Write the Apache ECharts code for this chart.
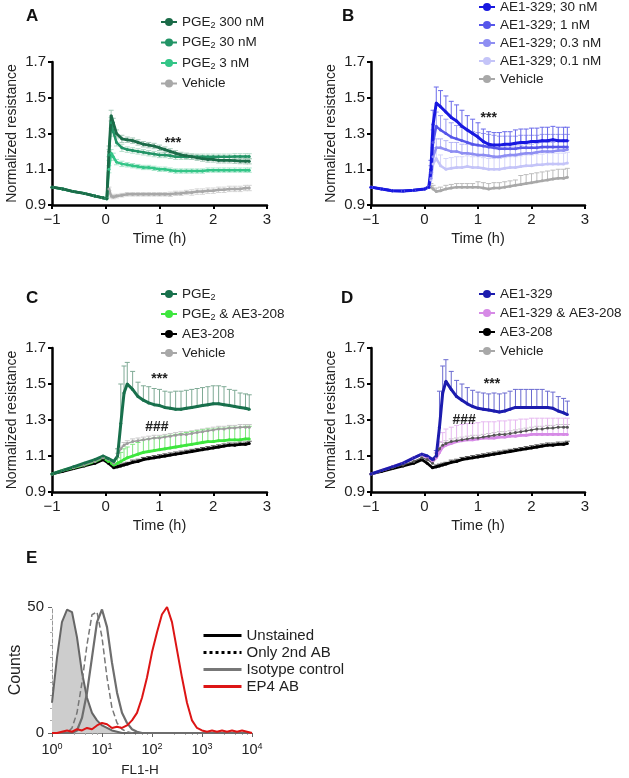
<!DOCTYPE html>
<html><head><meta charset="utf-8">
<script src="https://cdn.jsdelivr.net/npm/echarts@6/dist/echarts.min.js"></script>
<style>html,body{margin:0;padding:0;background:#fff}#c{width:629px;height:778px}</style>
</head><body><div id="c"></div>
<script>
// ---------- Panel A ----------
const tA = [-1,-0.8,-0.6,-0.4,-0.2,-0.05,0.02,0.06,0.1,0.14,0.2,0.3,0.4,0.5,0.6,0.7,0.8,0.9,1.0,1.1,1.2,1.3,1.4,1.5,1.6,1.7,1.8,1.9,2.0,2.1,2.2,2.3,2.4,2.5,2.6,2.67];
const pge300A = [1.00,0.99,0.975,0.965,0.95,0.94,0.935,1.20,1.40,1.36,1.30,1.27,1.265,1.26,1.25,1.24,1.235,1.23,1.22,1.21,1.20,1.19,1.18,1.175,1.17,1.165,1.16,1.155,1.155,1.15,1.15,1.15,1.148,1.146,1.145,1.145];
const pge30A  = [1.00,0.99,0.975,0.965,0.95,0.94,0.935,1.18,1.36,1.31,1.25,1.22,1.21,1.205,1.20,1.195,1.19,1.185,1.18,1.18,1.175,1.17,1.17,1.17,1.17,1.17,1.17,1.17,1.17,1.17,1.17,1.17,1.172,1.172,1.172,1.172];
const pge3A   = [1.00,0.99,0.975,0.965,0.95,0.94,0.935,1.10,1.19,1.17,1.14,1.13,1.125,1.12,1.115,1.11,1.11,1.105,1.10,1.10,1.095,1.09,1.09,1.09,1.09,1.09,1.09,1.095,1.095,1.095,1.095,1.095,1.095,1.095,1.095,1.095];
const vehA    = [1.00,0.99,0.975,0.965,0.95,0.94,0.935,0.99,0.95,0.945,0.95,0.955,0.96,0.96,0.96,0.96,0.96,0.96,0.96,0.96,0.96,0.965,0.965,0.97,0.97,0.975,0.975,0.98,0.98,0.985,0.985,0.99,0.99,0.99,0.995,0.995];
const e300A = [0,0,0,0,0,0,0,0.03,0.03,0.025,0.02,0.02,0.015,0.015,0.015,0.015,0.015,0.015,0.015,0.015,0.015,0.015,0.015,0.015,0.015,0.015,0.015,0.015,0.015,0.015,0.015,0.015,0.015,0.015,0.015,0.015];
const e30A  = [0,0,0,0,0,0,0,0.03,0.03,0.025,0.02,0.02,0.015,0.015,0.015,0.015,0.015,0.015,0.015,0.015,0.015,0.015,0.015,0.015,0.015,0.015,0.015,0.015,0.015,0.015,0.015,0.015,0.015,0.015,0.015,0.015];
const e3A   = [0,0,0,0,0,0,0,0.02,0.02,0.02,0.015,0.015,0.012,0.012,0.012,0.012,0.012,0.012,0.012,0.012,0.012,0.012,0.012,0.012,0.012,0.012,0.012,0.012,0.012,0.012,0.012,0.012,0.012,0.012,0.012,0.012];
const eVehA = [0,0,0,0,0,0,0,0.01,0.01,0.01,0.01,0.01,0.01,0.01,0.01,0.01,0.01,0.01,0.01,0.01,0.012,0.012,0.012,0.012,0.015,0.015,0.015,0.015,0.015,0.015,0.015,0.015,0.015,0.015,0.015,0.015];

// ---------- Panel B ----------
const tB = [-1,-0.8,-0.6,-0.4,-0.2,0,0.08,0.12,0.16,0.22,0.3,0.4,0.5,0.6,0.7,0.8,0.9,1.0,1.1,1.2,1.3,1.4,1.5,1.6,1.7,1.8,1.9,2.0,2.1,2.2,2.3,2.4,2.5,2.6,2.67];
const ae30B = [1.00,0.99,0.98,0.978,0.983,0.99,1.00,1.10,1.35,1.47,1.45,1.42,1.39,1.37,1.34,1.32,1.30,1.28,1.255,1.24,1.235,1.235,1.24,1.24,1.245,1.25,1.25,1.255,1.255,1.26,1.26,1.265,1.26,1.26,1.26];
const ae1B  = [1.00,0.99,0.98,0.978,0.983,0.99,1.00,1.08,1.25,1.34,1.32,1.30,1.28,1.27,1.26,1.25,1.24,1.235,1.23,1.225,1.22,1.215,1.215,1.215,1.215,1.22,1.22,1.22,1.22,1.225,1.225,1.225,1.225,1.225,1.225];
const ae03B = [1.00,0.99,0.98,0.978,0.983,0.99,1.00,1.05,1.17,1.22,1.22,1.21,1.20,1.20,1.19,1.19,1.185,1.18,1.18,1.175,1.17,1.17,1.175,1.18,1.18,1.185,1.19,1.19,1.195,1.20,1.20,1.20,1.205,1.205,1.21];
const ae01B = [1.00,0.99,0.98,0.978,0.983,0.99,1.00,1.04,1.13,1.16,1.12,1.10,1.105,1.11,1.11,1.115,1.11,1.11,1.105,1.10,1.10,1.10,1.105,1.11,1.11,1.115,1.12,1.12,1.125,1.125,1.13,1.13,1.13,1.13,1.135];
const vehB  = [1.00,0.99,0.98,0.978,0.983,0.99,1.00,1.00,0.99,0.975,0.98,0.99,0.995,1.0,1.0,1.0,1.0,1.0,0.995,0.99,0.995,0.995,1.0,1.005,1.01,1.015,1.02,1.025,1.03,1.035,1.04,1.045,1.05,1.05,1.055];
const e30B  = [0,0,0,0,0,0,0,0.05,0.08,0.09,0.09,0.09,0.09,0.09,0.09,0.08,0.08,0.08,0.07,0.07,0.07,0.07,0.07,0.07,0.075,0.075,0.075,0.075,0.075,0.075,0.075,0.075,0.075,0.075,0.075];
const e1B   = [0,0,0,0,0,0,0,0.04,0.07,0.08,0.08,0.08,0.08,0.075,0.075,0.07,0.07,0.07,0.07,0.07,0.07,0.07,0.07,0.07,0.07,0.07,0.07,0.07,0.07,0.07,0.07,0.07,0.07,0.07,0.07];
const e03B  = [0,0,0,0,0,0,0,0.03,0.05,0.05,0.05,0.05,0.05,0.05,0.05,0.05,0.05,0.05,0.05,0.05,0.05,0.05,0.05,0.05,0.05,0.05,0.05,0.05,0.05,0.05,0.05,0.05,0.05,0.05,0.05];
const e01B  = [0,0,0,0,0,0,0,0.03,0.06,0.06,0.06,0.06,0.06,0.06,0.06,0.06,0.06,0.06,0.06,0.06,0.06,0.06,0.06,0.06,0.06,0.06,0.06,0.06,0.06,0.06,0.06,0.06,0.06,0.06,0.06];
const eVehB = [0,0,0,0,0,0,0,0.02,0.02,0.02,0.02,0.02,0.02,0.02,0.02,0.02,0.02,0.03,0.03,0.03,0.03,0.03,0.03,0.03,0.03,0.05,0.05,0.05,0.05,0.05,0.05,0.05,0.05,0.05,0.05];

// ---------- Panels C and D ----------
const tCD = [-1,-0.8,-0.6,-0.4,-0.2,-0.05,0.05,0.15,0.22,0.28,0.34,0.4,0.5,0.6,0.7,0.8,0.9,1.0,1.1,1.2,1.3,1.4,1.5,1.6,1.7,1.8,1.9,2.0,2.1,2.2,2.3,2.4,2.5,2.6,2.67];
const pgeC   = [1.0,1.02,1.04,1.06,1.08,1.10,1.085,1.07,1.10,1.28,1.45,1.50,1.47,1.43,1.41,1.395,1.385,1.38,1.37,1.365,1.36,1.36,1.365,1.37,1.375,1.38,1.385,1.39,1.39,1.385,1.38,1.375,1.37,1.365,1.36];
const pgeAeC = [1.0,1.02,1.035,1.05,1.07,1.09,1.07,1.05,1.06,1.07,1.08,1.09,1.10,1.11,1.12,1.125,1.13,1.135,1.14,1.145,1.15,1.155,1.16,1.165,1.17,1.175,1.18,1.18,1.185,1.185,1.19,1.19,1.19,1.195,1.195];
const ae3CD  = [1.0,1.015,1.03,1.045,1.06,1.08,1.06,1.035,1.04,1.045,1.05,1.055,1.065,1.07,1.08,1.085,1.09,1.095,1.10,1.105,1.11,1.115,1.12,1.125,1.13,1.135,1.14,1.145,1.15,1.155,1.16,1.16,1.165,1.165,1.17];
const vehCD  = [1.0,1.02,1.035,1.05,1.07,1.09,1.08,1.06,1.10,1.14,1.16,1.17,1.18,1.185,1.19,1.195,1.20,1.20,1.205,1.21,1.215,1.22,1.22,1.225,1.23,1.235,1.24,1.245,1.25,1.25,1.255,1.255,1.26,1.26,1.26];
const ae1D   = [1.0,1.02,1.04,1.06,1.09,1.11,1.10,1.08,1.10,1.26,1.45,1.515,1.47,1.43,1.41,1.39,1.375,1.365,1.36,1.355,1.35,1.345,1.35,1.36,1.37,1.37,1.37,1.37,1.37,1.37,1.37,1.365,1.35,1.34,1.33];
const ae1Ae3D= [1.0,1.02,1.04,1.06,1.09,1.11,1.09,1.07,1.09,1.12,1.15,1.16,1.17,1.18,1.185,1.19,1.19,1.195,1.20,1.20,1.20,1.205,1.205,1.21,1.21,1.215,1.215,1.22,1.22,1.22,1.22,1.22,1.22,1.22,1.22];
const ePgeC   = [0,0,0,0,0,0,0,0,0.04,0.22,0.15,0.12,0.10,0.08,0.08,0.09,0.09,0.09,0.09,0.09,0.10,0.10,0.10,0.10,0.10,0.10,0.10,0.10,0.10,0.10,0.09,0.09,0.08,0.08,0.08];
const ePgeAeC = [0,0,0,0,0,0,0,0,0.03,0.05,0.06,0.06,0.065,0.065,0.07,0.07,0.07,0.07,0.07,0.07,0.07,0.07,0.07,0.07,0.07,0.07,0.07,0.07,0.07,0.07,0.07,0.07,0.07,0.07,0.07];
const eAe3CD  = [0,0,0,0,0,0,0,0,0.01,0.01,0.01,0.01,0.012,0.012,0.012,0.012,0.012,0.012,0.012,0.012,0.012,0.012,0.012,0.012,0.012,0.012,0.012,0.012,0.012,0.012,0.012,0.012,0.012,0.012,0.012];
const eVehCD  = [0,0,0,0,0,0,0,0,0.015,0.015,0.015,0.015,0.015,0.015,0.015,0.015,0.015,0.015,0.015,0.015,0.015,0.015,0.015,0.015,0.015,0.015,0.015,0.015,0.015,0.015,0.015,0.015,0.015,0.015,0.015];
const eAe1D   = [0,0,0,0,0,0,0,0,0.03,0.20,0.15,0.12,0.10,0.09,0.09,0.09,0.09,0.09,0.09,0.09,0.10,0.10,0.10,0.10,0.10,0.10,0.10,0.10,0.10,0.10,0.09,0.09,0.08,0.08,0.075];
const eAe1Ae3D= [0,0,0,0,0,0,0,0,0.03,0.06,0.08,0.09,0.09,0.09,0.09,0.09,0.09,0.09,0.09,0.09,0.09,0.09,0.09,0.09,0.09,0.09,0.09,0.09,0.09,0.09,0.09,0.09,0.09,0.09,0.09];

// ---------- Panel E (flow cytometry) ----------
const flBins = [1,1.26,1.58,2,2.51,3.16,3.98,5.01,6.31,7.94,10,12.6,15.8,20,25.1,31.6,39.8,50.1,63.1,79.4,100,126,158,200,251,316,398,501,631,794,1000,1259,1585,1995,2512,3162,3981,5012,6310,7943,10000];
const unstained = [12,30,44,49,48,38,24,14,8,5,3,2,1,0.5,0,0,0,0,0,0,0,0,0,0,0,0,0,0,0,0,0,0,0,0,0,0,0,0,0,0,0];
const only2nd   = [0,0,0,0,2,8,20,35,47,48,38,22,10,4,1.5,0.5,0,0,0,0,0,0,0,0,0,0,0,0,0,0,0,0,0,0,0,0,0,0,0,0,0];
const isotype   = [0,0,0,0,0,1,6,16,30,44,49,42,28,16,8,4,1.5,0.5,0,0,0,0,0,0,0,0,0,0,0,0,0,0,0,0,0,0,0,0,0,0,0];
const ep4       = [0,0,0.5,1,0.5,1.5,1,2,1.5,3,4,3.5,2,2.5,2,3,5,8,14,22,32,40,47,50,44,33,22,12,5,2,1,0.5,1,0.5,1,0.5,1,0.5,1,0.5,0];

// ---------- tick labels ----------
const timeTicks = [-1,0,1,2,3];
const resTicks = [0.9,1.1,1.3,1.5,1.7];

const F = "'Liberation Sans', Arial, Helvetica, sans-serif";
const TXT = '#222';

function pts(t, y){ return t.map((v,i)=>[v, y[i]]); }
function errPts(t, y, e){ return t.map((v,i)=>[v, y[i], e[i]]); }

function lineS(name, gi, t, y, color, w, mp){
  const s = {name, type:'line', xAxisIndex:gi, yAxisIndex:gi, data:pts(t,y),
    symbol:'circle', symbolSize:3, showSymbol:true,
    lineStyle:{color, width:w||2.5}, itemStyle:{color}, z:4, animation:false};
  if (mp) s.markPoint = {symbol:'circle', symbolSize:1, itemStyle:{color:'rgba(0,0,0,0)'},
    label:{show:true, position:'inside', color:TXT, fontFamily:F, fontSize:14, fontWeight:'bold', formatter:p=>p.data.value},
    data: mp.map(m=>({coord:[m[0], m[1]], value:m[2]}))};
  return s;
}
function errS(gi, t, y, e, color, both){
  return {type:'custom', xAxisIndex:gi, yAxisIndex:gi, data:errPts(t,y,e), encode:{x:0,y:1}, z:2, silent:true, animation:false,
    renderItem:function(params, api){
      const x = api.value(0), yv = api.value(1), ev = api.value(2);
      if (!ev) return;
      const p0 = api.coord([x, both ? yv-ev : yv]);
      const p1 = api.coord([x, yv+ev]);
      const ch = [
        {type:'line', shape:{x1:p0[0],y1:p0[1],x2:p1[0],y2:p1[1]}, style:{stroke:color, lineWidth:1}},
        {type:'line', shape:{x1:p1[0]-2.5,y1:p1[1],x2:p1[0]+2.5,y2:p1[1]}, style:{stroke:color, lineWidth:1}}
      ];
      if (both) ch.push({type:'line', shape:{x1:p0[0]-2.5,y1:p0[1],x2:p0[0]+2.5,y2:p0[1]}, style:{stroke:color, lineWidth:1}});
      return {type:'group', children:ch};
    }};
}

const grids = [
  {left:52, top:62, width:215, height:143},
  {left:371, top:62, width:214, height:143},
  {left:52, top:348, width:215, height:144},
  {left:371, top:348, width:214, height:144},
  {left:52, top:607, width:200, height:126}
];

function xAx(gi){
  return {gridIndex:gi, type:'value', min:timeTicks[0], max:timeTicks[timeTicks.length-1], interval:1,
    name:'Time (h)', nameLocation:'middle', nameGap:26,
    nameTextStyle:{fontSize:14.5, color:TXT, fontFamily:F},
    axisLine:{show:true, onZero:false, lineStyle:{color:'#000', width:2.5}},
    axisTick:{show:true, length:4, lineStyle:{color:'#000', width:2}},
    axisLabel:{fontSize:15, color:TXT, fontFamily:F, margin:7, formatter:v=> v<0 ? '\u2212'+Math.abs(v) : String(v)},
    splitLine:{show:false}};
}
function yAx(gi){
  return {gridIndex:gi, type:'value', min:resTicks[0], max:resTicks[resTicks.length-1], interval:0.2,
    name:'Normalized resistance', nameLocation:'middle', nameGap:33,
    nameTextStyle:{fontSize:14, color:TXT, fontFamily:F},
    axisLine:{show:true, onZero:false, lineStyle:{color:'#000', width:2.5}},
    axisTick:{show:true, length:4, lineStyle:{color:'#000', width:2}},
    axisLabel:{fontSize:15, color:TXT, fontFamily:F, margin:6, formatter:v=>v.toFixed(1)},
    splitLine:{show:false}};
}

const C = {
  a300:'#1b6b48', a30:'#229466', a3:'#33c587', veh:'#a8a8a8',
  b30:'#1818e0', b1:'#5656ea', b03:'#8e8ef2', b01:'#c4c4f8',
  cPge:'#18704c', cPgeAe:'#3ee63e', blk:'#000000', vehCD:'#9c9c9c',
  dAe:'#1c1cae', dPink:'#d68ae6'
};

function legendFmt(n){
  if (n.indexOf('PGE2') === 0) return '{t|PGE}{s|2}{t|' + n.slice(4) + '}';
  return '{t|' + n + '}';
}
const legRich = {t:{fontSize:13.5, lineHeight:16, color:TXT, fontFamily:F}, s:{fontSize:9, verticalAlign:'bottom', color:TXT, fontFamily:F}};
function leg(left, top, gap, names){
  return {orient:'vertical', left, top, itemWidth:16, itemHeight:10, itemGap:gap, padding:0,
    selectedMode:false, formatter:legendFmt, textStyle:{rich:legRich}, data:names};
}

const series = [
  // A
  errS(0,tA,vehA,eVehA,'#d4d4d4',true),
  errS(0,tA,pge3A,e3A,'#a9e6cb',true),
  errS(0,tA,pge30A,e30A,'#b4dcc9',true),
  errS(0,tA,pge300A,e300A,'#a7c9b9',true),
  lineS('Vehicle',0,tA,vehA,C.veh,2.5),
  lineS('PGE2 3 nM',0,tA,pge3A,C.a3,2.5),
  lineS('PGE2 30 nM',0,tA,pge30A,C.a30,2.5),
  lineS('PGE2 300 nM',0,tA,pge300A,C.a300,2.8,[[1.25,1.245,'***']]),
  // B
  errS(1,tB,vehB,eVehB,'#bdbdbd'),
  errS(1,tB,ae01B,e01B,'#d6d6fa'),
  errS(1,tB,ae03B,e03B,'#b4b4f5'),
  errS(1,tB,ae1B,e1B,'#9a9af0'),
  errS(1,tB,ae30B,e30B,'#6a6aea'),
  lineS('Vehicle',1,tB,vehB,C.veh,2.5),
  lineS('AE1-329; 0.1 nM',1,tB,ae01B,C.b01,2.5),
  lineS('AE1-329; 0.3 nM',1,tB,ae03B,C.b03,2.5),
  lineS('AE1-329; 1 nM',1,tB,ae1B,C.b1,2.5),
  lineS('AE1-329; 30 nM',1,tB,ae30B,C.b30,3,[[1.2,1.385,'***']]),
  // C
  errS(2,tCD,vehCD,eVehCD,'#c8c8c8'),
  errS(2,tCD,ae3CD,eAe3CD,'#555555'),
  errS(2,tCD,pgeAeC,ePgeAeC,'#7fe67f'),
  errS(2,tCD,pgeC,ePgeC,'#7faa95'),
  lineS('AE3-208',2,tCD,ae3CD,C.blk,2.8),
  lineS('PGE2 & AE3-208',2,tCD,pgeAeC,C.cPgeAe,2.8),
  lineS('Vehicle',2,tCD,vehCD,C.vehCD,1.5,[[0.95,1.262,'###']]),
  lineS('PGE2',2,tCD,pgeC,C.cPge,3,[[1.0,1.525,'***']]),
  // D
  errS(3,tCD,vehCD,eVehCD,'#c8c8c8'),
  errS(3,tCD,ae3CD,eAe3CD,'#555555'),
  errS(3,tCD,ae1Ae3D,eAe1Ae3D,'#e6b8f0'),
  errS(3,tCD,ae1D,eAe1D,'#6a6ad0'),
  lineS('AE3-208',3,tCD,ae3CD,C.blk,2.8),
  lineS('AE1-329 & AE3-208',3,tCD,ae1Ae3D,C.dPink,2.8),
  lineS('Vehicle',3,tCD,vehCD,'#555555',1.2,[[0.74,1.30,'###']]),
  lineS('AE1-329',3,tCD,ae1D,C.dAe,3,[[1.26,1.50,'***']]),
  // E
  {name:'Unstained', type:'line', xAxisIndex:4, yAxisIndex:4, data:pts(flBins,unstained), symbol:'none',
   lineStyle:{color:'#666', width:2}, itemStyle:{color:'#666'}, areaStyle:{color:'#cdcdcd', opacity:1}, z:2, animation:false},
  {name:'Only 2nd AB', type:'line', xAxisIndex:4, yAxisIndex:4, data:pts(flBins,only2nd), symbol:'none',
   lineStyle:{color:'#777', width:1.5, type:'dashed'}, itemStyle:{color:'#777'}, z:3, animation:false},
  {name:'Isotype control', type:'line', xAxisIndex:4, yAxisIndex:4, data:pts(flBins,isotype), symbol:'none',
   lineStyle:{color:'#6e6e6e', width:2.2}, itemStyle:{color:'#6e6e6e'}, z:4, animation:false},
  {name:'EP4 AB', type:'line', xAxisIndex:4, yAxisIndex:4, data:pts(flBins,ep4), symbol:'none',
   lineStyle:{color:'#dd1515', width:2}, itemStyle:{color:'#dd1515'}, z:5, animation:false}
];

const noSym = {color:'rgba(0,0,0,0)', borderWidth:0, borderColor:'rgba(0,0,0,0)'};
const option = {
  backgroundColor:'#fff',
  animation:false,
  textStyle:{fontFamily:F},
  title: [
    {text:'A', left:21, top:3},
    {text:'B', left:337, top:3},
    {text:'C', left:21, top:285},
    {text:'D', left:336, top:285},
    {text:'E', left:21, top:545}
  ].map(o=>Object.assign(o,{textStyle:{fontSize:17, fontWeight:'bold', color:'#111', fontFamily:F}})),
  grid: grids,
  xAxis: [xAx(0), xAx(1), xAx(2), xAx(3),
    {gridIndex:4, type:'log', logBase:10, min:1, max:10000,
     name:'FL1-H', nameLocation:'middle', nameGap:30, nameTextStyle:{fontSize:13.5, color:TXT, fontFamily:F, padding:[0,24,0,0]},
     axisLine:{show:true, onZero:false, lineStyle:{color:'#888', width:1}},
     axisTick:{show:true, length:4, lineStyle:{color:'#666'}},
     minorTick:{show:true, length:2, lineStyle:{color:'#aaa'}},
     axisLabel:{color:TXT, margin:9, formatter:v=>'{b|10}{p|'+Math.round(Math.log10(v))+'}',
       rich:{b:{fontSize:14.5, color:TXT, fontFamily:F}, p:{fontSize:9, verticalAlign:'top', color:TXT, fontFamily:F}}},
     splitLine:{show:false}}],
  yAxis: [yAx(0), yAx(1), yAx(2), yAx(3),
    {gridIndex:4, type:'value', min:0, max:50, interval:50,
     name:'Counts', nameLocation:'middle', nameGap:24, nameTextStyle:{fontSize:16, color:TXT, fontFamily:F},
     axisLine:{show:true, onZero:false, lineStyle:{color:'#999', width:1, type:'dashed'}},
     axisTick:{show:true, length:4, lineStyle:{color:'#666'}},
     minorTick:{show:true, splitNumber:10, length:2, lineStyle:{color:'#aaa'}},
     axisLabel:{fontSize:15, color:TXT, fontFamily:F, margin:8},
     splitLine:{show:false}}],
  legend: [
    leg(160, 15, 5.5, ['PGE2 300 nM','PGE2 30 nM','PGE2 3 nM','Vehicle']),
    leg(478, 0, 4, ['AE1-329; 30 nM','AE1-329; 1 nM','AE1-329; 0.3 nM','AE1-329; 0.1 nM','Vehicle']),
    leg(160, 287, 5, ['PGE2','PGE2 & AE3-208','AE3-208','Vehicle']),
    leg(478, 287, 5, ['AE1-329','AE1-329 & AE3-208','AE3-208','Vehicle']),
    {orient:'vertical', left:202, top:628, itemWidth:38, itemHeight:10, itemGap:2, padding:0, selectedMode:false,
     textStyle:{fontSize:15, lineHeight:14, color:TXT, fontFamily:F},
     data:[
       {name:'Unstained', itemStyle:noSym, lineStyle:{color:'#000', width:3, type:'solid'}},
       {name:'Only 2nd AB', itemStyle:noSym, lineStyle:{color:'#000', width:3, type:'dotted'}},
       {name:'Isotype control', itemStyle:noSym, lineStyle:{color:'#777', width:3}},
       {name:'EP4 AB', itemStyle:noSym, lineStyle:{color:'#dd1515', width:3}}
     ]}
  ],
  series
};

const chart = echarts.init(document.getElementById('c'), null, {renderer:'canvas'});
chart.setOption(option);
</script></body></html>
